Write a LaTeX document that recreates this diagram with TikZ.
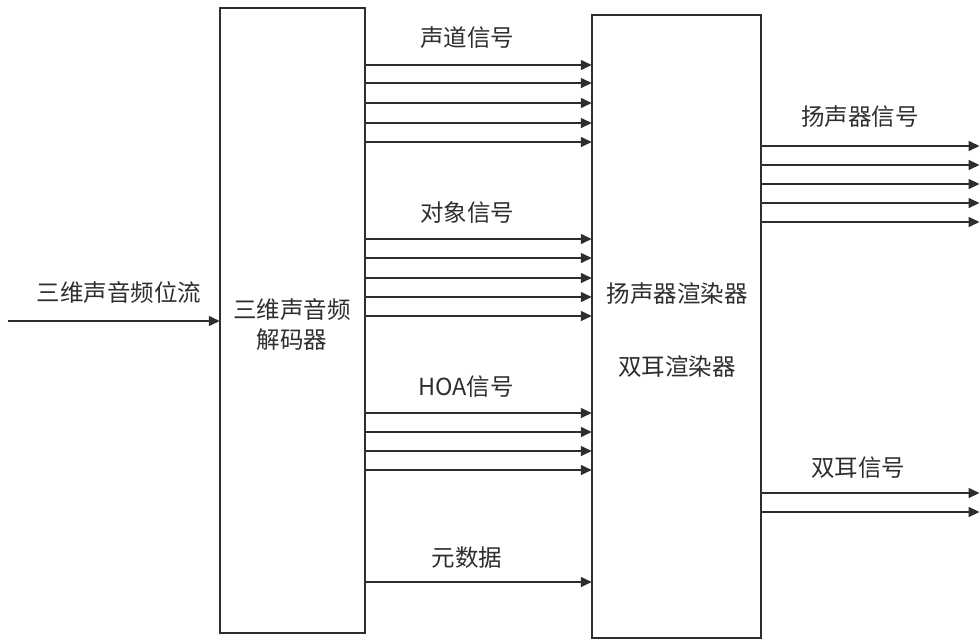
\documentclass[tikz,border=0pt]{standalone}
\usepackage{fontspec}
\setmainfont{Noto Sans CJK SC}
\usetikzlibrary{arrows.meta}
\definecolor{ink}{HTML}{2E2E2E}
\tikzset{
  blockbox/.style={draw=ink, line width=1.5pt, fill=white, inner sep=0pt},
  lbl/.style={text=ink, font=\fontsize{23.5}{30}\selectfont, align=center, inner sep=0pt},
  sig/.style={draw=ink, line width=1.6pt, -{Triangle[length=11pt,width=10pt]}, shorten >=-0.5pt},
}
\begin{document}
\begin{tikzpicture}[x=1pt,y=-1pt]
\useasboundingbox (0,0) rectangle (980,641);
% blocks
\node[blockbox, minimum width=145pt, minimum height=625pt] (dec) at (292.5,320.5) {};
\node[blockbox, minimum width=169pt, minimum height=623pt] (ren) at (676.5,326.5) {};
% block texts
\node[lbl] (dectxt) at (292,325) {三维声音频\\解码器};
\node[lbl] (spkr) at (677,294) {扬声器渲染器};
\node[lbl] (binr) at (677,367) {双耳渲染器};
% input
\coordinate (in) at (8,321);
\draw[sig] (in) -- (dec.west |- in);
\node[lbl] (inlbl) at (119,293) {三维声音频位流};
% decoder -> renderer groups
\foreach \y in {65,83,103,123,142}{
  \draw[sig] (dec.east |- 0,\y) -- (ren.west |- 0,\y);
}
\node[lbl] (chlbl) at (467,38) {声道信号};
\foreach \y in {239,258,278,297,316}{
  \draw[sig] (dec.east |- 0,\y) -- (ren.west |- 0,\y);
}
\node[lbl] (objlbl) at (467,213) {对象信号};
\foreach \y in {413,432,451,470}{
  \draw[sig] (dec.east |- 0,\y) -- (ren.west |- 0,\y);
}
\node[lbl] (hoalbl) at (466,387) {HOA信号};
\draw[sig] (dec.east |- 0,582) -- (ren.west |- 0,582);
\node[lbl] (metalbl) at (467,558) {元数据};
% outputs
\foreach \y [count=\i] in {146,165,184,203,222}{
  \coordinate (spk\i) at (979,\y);
  \draw[sig] (ren.east |- spk\i) -- (spk\i);
}
\node[lbl] (spklbl) at (860,117) {扬声器信号};
\foreach \y [count=\i] in {493,512}{
  \coordinate (bin\i) at (979,\y);
  \draw[sig] (ren.east |- bin\i) -- (bin\i);
}
\node[lbl] (binlbl) at (858,468) {双耳信号};
\end{tikzpicture}
\end{document}
